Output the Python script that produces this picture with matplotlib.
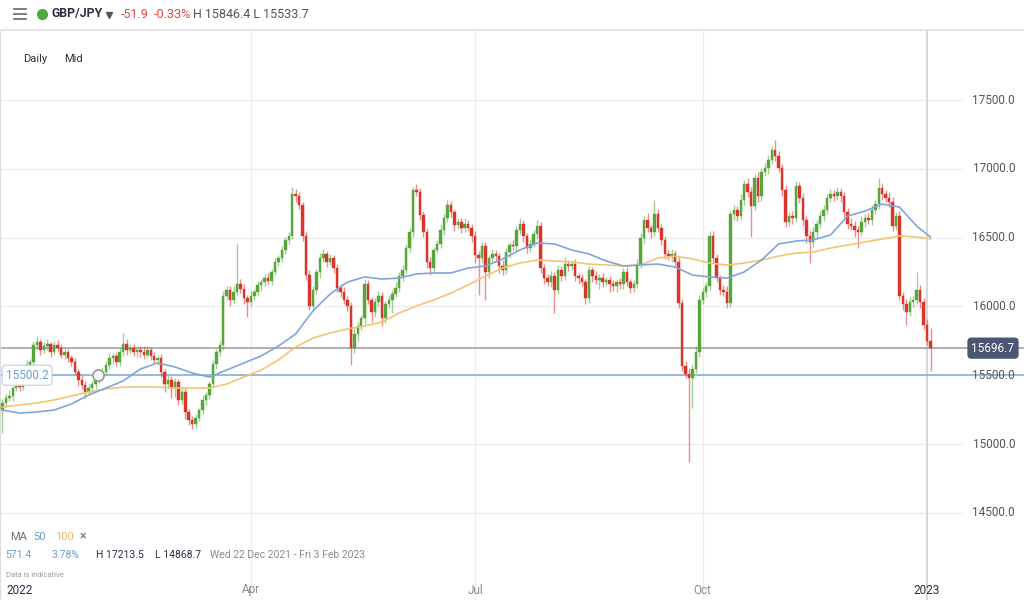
import numpy as np
import pandas as pd
import matplotlib.pyplot as plt
import matplotlib.transforms as mtransforms
from matplotlib.lines import Line2D

plt.switch_backend('agg')
plt.rcParams['font.family'] = ['Roboto', 'DejaVu Sans']

# trading days shown on the chart (Wed 22 Dec 2021 .. Tue 3 Jan 2023)
dates = pd.bdate_range('2021-12-22', '2023-01-03')

first_open = 15250
closes = [
    15300, 15335, 15350, 15405, 15420, 15415, 15480, 15575, 15595, 15720,
    15740, 15685, 15710, 15725, 15670, 15720, 15700, 15650, 15670, 15625,
    15595, 15525, 15465, 15430, 15380, 15405, 15435, 15465, 15480, 15525,
    15575, 15625, 15640, 15595, 15670, 15725, 15685, 15700, 15670, 15685,
    15670, 15650, 15685, 15640, 15610, 15625, 15525, 15435, 15465, 15405,
    15450, 15320, 15380, 15235, 15175, 15145, 15190, 15245, 15320, 15355,
    15435, 15580, 15670, 15720, 16075, 16120, 16045, 16105, 16160, 16130,
    16060, 16030, 16075, 16105, 16155, 16175, 16205, 16185, 16250, 16325,
    16350, 16410, 16485, 16510, 16815, 16800, 16735, 16510, 16230, 16005,
    16120, 16250, 16350, 16380, 16325, 16350, 16280, 16135, 16105, 16045,
    16005, 15700, 15800, 15855, 15915, 16165, 16045, 15960, 16030, 16075,
    15915, 16015, 16045, 16090, 16135, 16220, 16265, 16425, 16540, 16845,
    16830, 16665, 16540, 16325, 16280, 16410, 16455, 16555, 16645, 16735,
    16685, 16590, 16610, 16570, 16600, 16570, 16510, 16375, 16350, 16440,
    16250, 16350, 16380, 16365, 16295, 16265, 16395, 16445, 16440, 16555,
    16600, 16510, 16425, 16455, 16525, 16585, 16280, 16205, 16175, 16220,
    16120, 16265, 16220, 16310, 16295, 16310, 16220, 16205, 16175, 16060,
    16265, 16220, 16190, 16205, 16175, 16190, 16160, 16145, 16175, 16160,
    16250, 16175, 16135, 16160, 16310, 16495, 16630, 16570, 16540, 16670,
    16570, 16485, 16380, 16365, 16380, 16325, 16025, 15570, 15510, 15480,
    15545, 15670, 16045, 16105, 16150, 16510, 16350, 16205, 16120, 16105,
    16025, 16670, 16700, 16655, 16775, 16890, 16830, 16730, 16935, 16800,
    16975, 17005, 17065, 17135, 17090, 17005, 16845, 16615, 16655, 16640,
    16875, 16790, 16630, 16510, 16470, 16540, 16600, 16655, 16700, 16790,
    16815, 16800, 16830, 16800, 16685, 16600, 16585, 16555, 16540, 16615,
    16640, 16630, 16700, 16745, 16860, 16815, 16790, 16760, 16585, 16655,
    16075, 16015, 15960, 16030, 16045, 16120, 16030, 15865, 15748.6, 15696.7,
]
wick_up = [
    30, 25, 40, 20, 30, 25, 20, 35, 25, 30,
    35, 25, 30, 40, 20, 30, 35, 25, 30, 20,
    25, 30, 20, 35, 25, 30, 20, 25, 30, 35,
    30, 35, 25, 20, 30, 80, 35, 30, 25, 30,
    25, 40, 30, 20, 30, 25, 30, 20, 40, 30,
    30, 25, 40, 30, 20, 25, 30, 20, 35, 25,
    25, 30, 20, 30, 35, 30, 25, 40, 300, 40,
    30, 25, 35, 20, 30, 25, 30, 35, 25, 30,
    25, 30, 20, 30, 55, 40, 30, 25, 30, 35,
    30, 25, 35, 40, 25, 30, 20, 30, 25, 35,
    30, 25, 40, 30, 25, 35, 30, 25, 30, 40,
    30, 25, 35, 30, 40, 30, 35, 25, 30, 25,
    45, 30, 25, 30, 35, 25, 30, 40, 30, 40,
    30, 25, 35, 30, 40, 25, 30, 35, 25, 30,
    30, 25, 35, 30, 25, 40, 30, 25, 35, 30,
    40, 30, 25, 35, 30, 45, 30, 25, 30, 35,
    30, 35, 30, 50, 25, 30, 35, 25, 30, 25,
    30, 25, 35, 30, 40, 25, 30, 35, 25, 30,
    30, 35, 25, 30, 35, 40, 30, 50, 25, 100,
    35, 30, 25, 30, 35, 30, 40, 30, 35, 40,
    30, 40, 35, 30, 25, 35, 40, 30, 25, 35,
    40, 30, 35, 30, 45, 30, 40, 35, 30, 40,
    30, 40, 35, 30, 75, 40, 30, 35, 30, 40,
    40, 30, 35, 30, 40, 35, 30, 40, 35, 30,
    35, 30, 40, 30, 35, 30, 40, 35, 30, 40,
    30, 40, 35, 30, 75, 35, 30, 40, 35, 30,
    35, 30, 40, 35, 30, 130, 35, 30, 40, 97.8,
]
wick_dn = [
    170, 30, 25, 40, 20, 30, 25, 20, 35, 25,
    30, 35, 25, 30, 40, 20, 30, 25, 35, 30,
    30, 25, 40, 30, 45, 25, 30, 35, 25, 20,
    25, 30, 40, 30, 25, 30, 35, 25, 30, 40,
    35, 30, 25, 30, 20, 35, 40, 60, 30, 70,
    60, 40, 30, 50, 40, 35, 30, 25, 30, 35,
    30, 25, 35, 30, 40, 30, 45, 30, 25, 30,
    40, 110, 30, 25, 30, 40, 30, 25, 30, 20,
    30, 25, 30, 35, 20, 40, 30, 35, 40, 30,
    25, 30, 40, 30, 35, 25, 40, 30, 35, 30,
    40, 125, 35, 50, 30, 40, 30, 70, 35, 30,
    60, 35, 30, 90, 25, 30, 35, 25, 30, 35,
    30, 40, 35, 45, 50, 30, 25, 30, 35, 30,
    35, 40, 30, 35, 30, 25, 40, 60, 270, 35,
    200, 40, 30, 45, 50, 35, 30, 40, 30, 35,
    30, 40, 35, 30, 25, 30, 35, 40, 30, 35,
    170, 30, 35, 30, 40, 30, 35, 45, 30, 40,
    35, 40, 30, 60, 35, 30, 55, 30, 40, 35,
    35, 30, 40, 30, 25, 30, 35, 30, 40, 30,
    30, 40, 35, 30, 40, 30, 35, 40, 30, 610,
    220, 30, 35, 30, 40, 30, 35, 30, 40, 30,
    35, 30, 40, 35, 30, 40, 35, 225, 30, 40,
    35, 30, 40, 30, 35, 30, 40, 35, 30, 40,
    30, 40, 35, 50, 155, 35, 40, 30, 35, 30,
    30, 35, 30, 40, 35, 40, 30, 50, 115, 30,
    35, 30, 40, 30, 35, 40, 30, 35, 40, 30,
    30, 40, 95, 30, 35, 30, 40, 35, 30, 163,
]

# moving averages every 5 sessions
ma_days = list(range(0, 270, 5)) + [269]
ma50 = [
    15247, 15225, 15233, 15247, 15291, 15356, 15407, 15458, 15545, 15589,
    15560, 15516, 15487, 15538, 15589, 15640, 15712, 15800, 15967, 16090,
    16177, 16214, 16199, 16206, 16236, 16243, 16243, 16279, 16294, 16345,
    16410, 16461, 16454, 16410, 16381, 16330, 16294, 16301, 16308, 16286,
    16228, 16214, 16206, 16250, 16337, 16454, 16475, 16483, 16519, 16657,
    16693, 16744, 16722, 16584, 16504,
]
ma100 = [
    15269, 15284, 15298, 15320, 15349, 15378, 15400, 15414, 15414, 15414,
    15407, 15407, 15407, 15436, 15487, 15538, 15611, 15705, 15770, 15807,
    15836, 15858, 15887, 15952, 16003, 16047, 16097, 16156, 16221, 16279,
    16315, 16337, 16330, 16323, 16308, 16301, 16294, 16301, 16352, 16366,
    16345, 16315, 16301, 16315, 16337, 16366, 16388, 16395, 16424, 16446,
    16468, 16490, 16512, 16504, 16490,
]

price_ticks = [14500, 15000, 15500, 16000, 16500, 17000, 17500]
last_price = 15696.7
alert_price = 15500.2
period_labels = [(2022, 4, 'Apr'), (2022, 7, 'Jul'), (2022, 10, 'Oct'), (2023, 1, '2023')]

GREEN = '#57a63c'
RED = '#d8362b'
BLUE = '#7ea6da'
ORANGE = '#f5c470'
DARK = '#2a3147'
GREY = '#6e6e6e'


def fx(px):
    return px / 1024


def fy(py):
    return 1 - py / 600


fig = plt.figure(figsize=(10.24, 6), dpi=100)
ax = fig.add_axes([0, 0, 1, 570 / 600])
ax.set_xlim(-0.7, 296.1)
ax.set_ylim(13866.5, 18008.7)
for s in ['right', 'bottom']:
    ax.spines[s].set_visible(False)
ax.spines['left'].set_color('#dcdcdc')
ax.spines['top'].set_color('#e4e4e4')
ax.spines['top'].set_linewidth(1.5)
ax.set_xticks([])
ax.set_yticks([])

# grid
for p in price_ticks:
    ax.axhline(p, xmax=0.94, color='#ededed', lw=0.9, zorder=0)
    ax.text(1015 / 1024, p, f'{p:.1f}', transform=ax.get_yaxis_transform(),
            ha='right', va='center', fontsize=8.5, color='#555555')

xfig = mtransforms.blended_transform_factory(ax.transData, fig.transFigure)
for year, month, label in period_labels:
    pos = int(np.argmax((dates.year == year) & (dates.month == month)))
    if label == '2023':
        ax.axvline(pos, color='#d4d4d4', lw=1.3, zorder=0)
        ax.text(pos, fy(590), label, transform=xfig, ha='center', va='center',
                fontsize=8.5, color=DARK)
    else:
        ax.axvline(pos, color='#ededed', lw=0.9, zorder=0)
        ax.text(pos, fy(590), label, transform=xfig, ha='center', va='center',
                fontsize=8.5, color='#8a8a8a')
fig.text(fx(6), fy(590), '2022', ha='left', va='center', fontsize=8.5, color=DARK)

# candles
c = np.array(closes, dtype=float)
o = np.concatenate([[first_open], c[:-1]])
hi = np.maximum(o, c) + np.array(wick_up)
lo = np.minimum(o, c) - np.array(wick_dn)
idx = np.arange(len(c))
cols = np.where(c >= o, GREEN, RED)
ax.vlines(idx, lo, hi, colors=cols, lw=1.0, alpha=0.55, zorder=2)
ax.bar(idx, np.abs(c - o), bottom=np.minimum(o, c), width=0.72, color=cols,
       edgecolor=cols, lw=0.3, zorder=3)

# moving averages
ax.plot(ma_days, ma100, color=ORANGE, lw=1.2, zorder=4)
ax.plot(ma_days, ma50, color=BLUE, lw=1.2, zorder=4)

# price lines
ax.axhline(last_price, color='#a3a3a3', lw=1.2, zorder=1)
ax.axhline(alert_price, color='#8aaedc', lw=1.2, zorder=1)
ax.text(993 / 1024, last_price, f'{last_price:.1f}', transform=ax.get_yaxis_transform(),
        ha='center', va='center', fontsize=8.5, color='white', zorder=6,
        bbox=dict(boxstyle='round,pad=0.35', fc='#4a5672', ec='none'))
ax.text(27 / 1024, alert_price, f'{alert_price:.1f}', transform=ax.get_yaxis_transform(),
        ha='center', va='center', fontsize=8.5, color='#6f9bd3', zorder=6,
        bbox=dict(boxstyle='round,pad=0.3', fc='white', ec='#b9cfeb', lw=0.8))
ax.plot([98 / 1024], [alert_price], transform=ax.get_yaxis_transform(), marker='o',
        ms=8, mfc='#f4f4f4', mec='#9a9a9a', mew=1.2, zorder=7)

# header
for yy in (9, 14, 19):
    fig.add_artist(Line2D([fx(14), fx(26)], [fy(yy), fy(yy)], color='#666666', lw=1.2))
fig.add_artist(Line2D([fx(42)], [fy(14)], marker='o', ms=7, color='#4caa3c', lw=0))
fig.text(fx(51), fy(14), 'GBP/JPY', ha='left', va='center', fontsize=8.8,
         fontweight='bold', color=DARK)
fig.add_artist(Line2D([fx(109)], [fy(15)], marker='v', ms=5, color='#555555', lw=0))
fig.text(fx(121), fy(14), '-51.9', ha='left', va='center', fontsize=9, color='#df4a3b')
fig.text(fx(154), fy(14), '-0.33%', ha='left', va='center', fontsize=9, color='#df4a3b')
fig.text(fx(193), fy(14), 'H 15846.4 L 15533.7', ha='left', va='center', fontsize=9,
         color='#555555')
fig.text(fx(23), fy(59), 'Daily', ha='left', va='center', fontsize=8, color='#333333')
fig.text(fx(64), fy(59), 'Mid', ha='left', va='center', fontsize=8, color='#333333')

# indicator legend
fig.text(fx(10), fy(537), 'MA', ha='left', va='center', fontsize=8, color=GREY)
fig.text(fx(33), fy(537), '50', ha='left', va='center', fontsize=8, color='#6f9bd3')
fig.text(fx(55), fy(537), '100', ha='left', va='center', fontsize=8, color='#f0b95a')
fig.text(fx(80), fy(537), '×', ha='left', va='center', fontsize=9,
         fontweight='bold', color='#888888')
fig.text(fx(5), fy(555), '571.4', ha='left', va='center', fontsize=7.5, color='#6f9bd3')
fig.text(fx(52), fy(555), '3.78%', ha='left', va='center', fontsize=7.5, color='#6f9bd3')
fig.text(fx(96), fy(555), 'H 17213.5', ha='left', va='center', fontsize=7.5, color=DARK)
fig.text(fx(155), fy(555), 'L 14868.7', ha='left', va='center', fontsize=7.5, color=DARK)
fig.text(fx(210), fy(555), 'Wed 22 Dec 2021 - Fri 3 Feb 2023', ha='left', va='center',
         fontsize=7.5, color='#8a8a8a')
fig.text(fx(6), fy(575), 'Data is indicative', ha='left', va='center', fontsize=5.5,
         color='#9a9a9a')

fig.savefig('out.png', dpi=100)
